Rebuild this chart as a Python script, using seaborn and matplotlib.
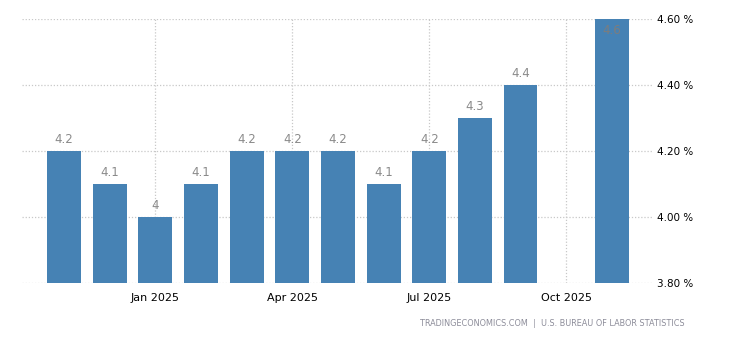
import numpy as np
import pandas as pd
import matplotlib
matplotlib.use("Agg")
import matplotlib.pyplot as plt
import seaborn as sns

# Monthly unemployment rate (%), Nov 2024 - Nov 2025; Oct 2025 not published
months = ["Nov 2024", "Dec 2024", "Jan 2025", "Feb 2025", "Mar 2025", "Apr 2025",
          "May 2025", "Jun 2025", "Jul 2025", "Aug 2025", "Sep 2025", "Oct 2025",
          "Nov 2025"]
rates = [4.2, 4.1, 4.0, 4.1, 4.2, 4.2, 4.2, 4.1, 4.2, 4.3, 4.4, np.nan, 4.6]
value_labels = ["4.2", "4.1", "4", "4.1", "4.2", "4.2", "4.2", "4.1", "4.2", "4.3", "4.4", "", "4.6"]
tick_months = ["Jan 2025", "Apr 2025", "Jul 2025", "Oct 2025"]
y_ticks = [3.8, 4.0, 4.2, 4.4, 4.6]
source_text = "TRADINGECONOMICS.COM  |  U.S. BUREAU OF LABOR STATISTICS"

df = pd.DataFrame({"month": months, "rate": rates})

sns.set_style("white")
plt.rcParams["font.family"] = ["DejaVu Sans"]

fig = plt.figure(figsize=(7.3, 3.4), dpi=100)
ax = fig.add_axes([22 / 730, 57 / 340, (653 - 22) / 730, (283 - 19) / 340])

sns.barplot(data=df, x="month", y="rate", order=months, color="#4682B4",
            saturation=1, width=0.74, linewidth=0, edgecolor="none",
            ax=ax, zorder=3)

ymin, ymax = 3.8, 4.6
ax.set_ylim(ymin, ymax)
ax.set_xlim(-0.92, 12.9)

# dotted grid
grid_kw = dict(color="#c8c8c8", linestyle=(0, (1, 1.5)), linewidth=0.9, zorder=1)
for yv in y_ticks:
    ax.axhline(yv, **grid_kw)
tick_pos = [months.index(m) for m in tick_months]
for xp in tick_pos:
    ax.axvline(xp, **grid_kw)

for s in ax.spines.values():
    s.set_visible(False)

ax.set_xticks(tick_pos)
ax.set_xticklabels(tick_months, fontsize=8, color="#000000")
ax.tick_params(axis="x", length=3, color="#c8c8c8", width=0.8, pad=4)
ax.yaxis.tick_right()
ax.set_yticks(y_ticks)
ax.set_yticklabels([f"{v:.2f} %" for v in y_ticks], fontsize=7.5, color="#000000")
ax.tick_params(axis="y", length=0, pad=3)
ax.set_xlabel("")
ax.set_ylabel("")

# value labels
for i, (v, lab) in enumerate(zip(rates, value_labels)):
    if np.isnan(v) or not lab:
        continue
    if v + 0.06 > ymax:
        ax.text(i, v - 0.035, lab, ha="center", va="center", fontsize=8.5,
                color="#7d7d7d", zorder=4)
    else:
        ax.text(i, v + 0.035, lab, ha="center", va="center", fontsize=8.5,
                color="#8a8a8a", zorder=4)

fig.text(685 / 730, 1 - 324 / 340, source_text, ha="right", va="center",
         fontsize=5.9, color="#8c8c99")

fig.savefig("out.png", dpi=100, facecolor="white")
